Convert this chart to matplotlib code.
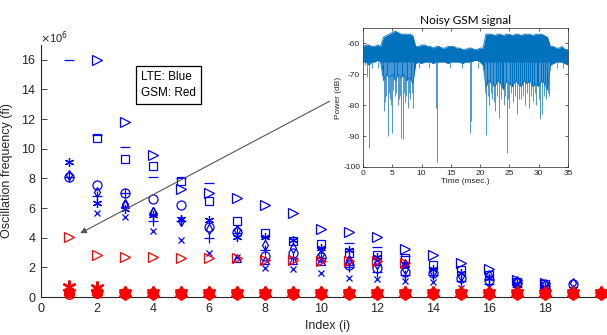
import numpy as np
import matplotlib.pyplot as plt

plt.rcParams['font.family'] = ['Liberation Sans', 'DejaVu Sans']
plt.rcParams['axes.unicode_minus'] = False

nan = np.nan
# ---------------- main chart data (values x 1e6) ----------------
index_lte = [1, 2, 3, 4, 5, 6, 7, 8, 9, 10, 11, 12, 13, 14, 15, 16, 17, 18, 19]
index_gsm = [1, 2, 3, 4, 5, 6, 7, 8, 9, 10, 11, 12, 13, 14, 15, 16, 17, 18, 19, 20]
index_gsm_tri = [1, 2, 3, 4, 5, 6, 7, 8, 9, 10, 11, 12, 13]

lte_tri = [nan, 16.0, 11.8, 9.6, 7.3, 7.0, 6.65, 6.2, 5.7, 4.6, 4.4, 4.05, 3.25, 2.85, 2.3, 1.9, 1.15, 0.95, nan]
lte_dash = [16.0, 10.95, 10.1, 8.1, 8.05, 7.7, nan, nan, nan, nan, 3.65, 3.4, 2.75, nan, nan, nan, nan, nan, nan]
lte_sq = [nan, 10.75, 9.3, 8.85, 7.85, 6.5, 5.1, 4.35, 3.8, 3.6, 3.0, 2.85, 2.6, 2.15, 1.8, 1.5, 1.0, 0.85, nan]
lte_star = [9.1, 6.35, 5.95, 5.5, 5.25, 5.2, 4.05, 4.05, 3.85, 3.3, 3.2, 2.7, 2.2, 1.9, 1.6, 1.3, 0.9, 0.7, 0.55]
lte_circ = [8.1, 7.55, 7.0, 6.6, 6.2, 4.7, 4.4, 2.75, 3.0, 2.7, 2.15, 1.95, 1.7, 1.65, 1.3, 1.15, 0.95, 0.75, 0.85]
lte_plus = [8.1, 6.8, 7.0, 5.15, 5.1, 4.0, 4.3, 3.2, 2.6, 2.6, 2.0, 1.7, 1.5, 1.5, 1.1, 0.9, 0.7, 0.6, 0.5]
lte_x = [nan, 5.7, 5.4, 4.45, 3.85, 3.0, 2.7, 1.95, 1.9, 1.6, 1.3, 1.2, 1.1, 1.0, 0.6, 0.7, 0.5, 0.45, 0.4]
lte_dia = [8.2, 7.1, 6.25, 5.75, 5.1, 4.6, 4.5, 3.5, 3.3, 2.9, 2.5, 2.2, 1.9, 1.7, 1.4, 1.5, 1.1, 0.9, 0.95]
lte_up = [nan, nan, 6.3, 5.8, nan, nan, 2.65, 2.5, 2.5, 2.45, 2.45, 2.4, 2.3, nan, nan, nan, nan, nan, nan]

gsm_tri = [4.05, 2.85, 2.7, 2.7, 2.65, 2.6, 2.6, 2.5, 2.5, 2.4, 2.4, 2.4, 2.3]
gsm_star = [0.65, 0.6, 0.3, 0.3, 0.3, 0.3, 0.3, 0.3, 0.3, 0.3, 0.3, 0.3, 0.3, 0.3, 0.3, 0.3, 0.3, 0.3, 0.3, 0.3]
gsm_circ = [0.2, 0.3, 0.2, 0.2, 0.2, 0.2, 0.2, 0.2, 0.2, 0.2, 0.2, 0.2, 0.2, 0.2, 0.2, 0.2, 0.2, 0.2, 0.2, 0.2]
gsm_hex = [0.35, 0.35, 0.25, 0.25, 0.25, 0.25, 0.25, 0.25, 0.25, 0.25, 0.25, 0.25, 0.25, 0.25, 0.25, 0.25, 0.25, 0.25, 0.25, 0.25]
gsm_plus = [0.45, 0.45, 0.3, 0.3, 0.3, 0.3, 0.3, 0.3, 0.3, 0.3, 0.3, 0.3, 0.3, 0.3, 0.3, 0.3, 0.3, 0.3, 0.3, 0.3]

x_ticks = [0, 2, 4, 6, 8, 10, 12, 14, 16, 18]
y_ticks = [0, 2, 4, 6, 8, 10, 12, 14, 16]

# ---------------- inset data (noisy GSM signal envelope, dB) ----------------
sig_t = [0, 0.5, 1, 1.5, 2, 2.5, 3, 3.5, 4, 4.5, 5, 5.5, 6, 6.5, 7, 7.5, 8, 8.5,
         9, 9.5, 10, 10.5, 11, 11.5, 12, 12.5, 13, 13.5, 14, 14.5, 15, 15.5, 16, 16.5,
         17, 17.5, 18, 18.5, 19, 19.5, 20, 20.5, 21, 21.5, 22, 22.5, 23, 23.5, 24, 24.5,
         25, 25.5, 26, 26.5, 27, 27.5, 28, 28.5, 29, 29.5, 30, 30.5, 31, 31.5, 32, 32.5,
         33, 33.5, 34, 34.5, 35]
sig_hi = [-61, -60.5, -60.5, -61, -61, -60.5, -61,
          -58, -57.5, -57, -56.5, -56, -56.5, -57, -57, -57, -57, -57.5,
          -61, -61, -60.5, -60.5, -61, -61, -61.5, -61, -61, -61.5, -61.5, -61,
          -61, -61, -61.5, -61.5, -62, -62, -61.5, -61.5, -62, -62, -61.5, -61.5,
          -57, -57, -57, -57.5, -57, -57, -57.5, -57, -57, -57.5, -57,
          -57, -57.5, -57, -57, -57, -57.5, -57, -57, -57, -57.5, -58,
          -61, -61, -61.5, -61.5, -61, -62, -62]
sig_lo = [-66, -66, -67, -66, -66, -65.5, -66,
          -72, -70, -71, -70, -72, -70, -71, -70, -72, -71, -73,
          -66.5, -66, -66.5, -66, -66, -66, -66.5, -66, -66, -66, -66, -66.5,
          -66, -66, -66, -66, -66.5, -66, -66, -66, -65.5, -65.5, -66, -67,
          -74, -72, -73, -74, -72, -73, -75, -72, -73, -74, -72,
          -73, -74, -72, -73, -72, -74, -73, -74, -72, -73, -75,
          -67, -66.5, -66, -66, -66, -66.5, -67]
spike_t = [0.3, 0.6, 1.0, 1.1, 1.6, 2.5, 3.3,
           3.5, 3.7, 3.8, 4.0, 4.2, 4.4, 4.6, 4.8, 5.0, 5.2, 5.4, 5.7, 5.9, 6.1, 6.3, 6.5,
           6.8, 7.0, 7.2, 7.4, 7.6, 7.9, 8.1, 8.3, 8.6,
           9.6, 11.2, 12.5, 12.7, 14.8, 16.9, 18.3, 18.5, 19.7,
           20.9, 21.0, 21.3, 21.5, 21.8, 22.0, 22.3, 22.6, 22.9, 23.3, 23.6, 24.0, 24.3, 24.5,
           24.8, 25.0, 25.3, 25.6, 26.0, 26.3, 26.6, 27.0, 27.3, 27.6, 28.0, 28.4, 28.7, 29.0,
           29.3, 29.6, 30.0, 30.3, 30.6, 30.9, 31.2, 31.5, 31.7, 33.2, 34.1]
spike_v = [-67, -71, -94, -85, -68, -68, -67,
           -82, -76, -79, -77, -90, -76, -78, -80, -89, -75, -77, -76, -80, -78, -77, -90.5,
           -91, -76, -79, -77, -81, -76, -78, -76, -81,
           -68, -68, -81, -98.5, -68, -68, -89, -85, -68,
           -76, -89.5, -77, -80, -76, -78, -79, -82, -77, -84, -78, -80, -77, -95.5,
           -78, -81, -76, -79, -77, -83, -78, -78, -77, -80, -76, -81, -77, -79,
           -76, -80, -78, -84.5, -83, -77, -78, -76, -77, -68, -68]

BLUE = '#0000FF'
RED = '#FF0000'
TXT = '#262626'
ASTER = (6, 2, 0)

fig = plt.figure(figsize=(6.07, 3.35), dpi=100)
ax = fig.add_axes([41 / 607, 1 - 297 / 335, 574 / 607, 252 / 335])
ax.set_xlim(0, 20.5)
ax.set_ylim(0, 17)

mk = dict(linestyle='none', fillstyle='none', markeredgewidth=0.9)
ax.plot(index_lte, lte_tri, marker='>', ms=7, color=BLUE, **mk)
ax.plot(index_lte, lte_dash, marker='_', ms=7, color=BLUE, **mk)
ax.plot(index_lte, lte_sq, marker='s', ms=5.5, color=BLUE, **mk)
ax.plot(index_lte, lte_star, marker=ASTER, ms=6.5, color=BLUE, **mk)
ax.plot(index_lte, lte_circ, marker='o', ms=6.5, color=BLUE, **mk)
ax.plot(index_lte, lte_plus, marker='+', ms=6.5, color=BLUE, **mk)
ax.plot(index_lte, lte_x, marker='x', ms=5, color=BLUE, **mk)
ax.plot(index_lte, lte_dia, marker='d', ms=5.5, color=BLUE, **mk)
ax.plot(index_lte, lte_up, marker='^', ms=5.5, color=BLUE, **mk)

ax.plot(index_gsm_tri, gsm_tri, marker='>', ms=7, color=RED, **mk)
ax.plot(index_gsm, gsm_hex, marker='h', ms=8, color=RED, linestyle='none', clip_on=False, zorder=5)
ax.plot(index_gsm, gsm_star, marker=ASTER, ms=10, color=RED, linestyle='none',
        markeredgewidth=1.6, clip_on=False, zorder=5)
ax.plot(index_gsm, gsm_circ, marker='o', ms=7, color=RED, fillstyle='none', linestyle='none',
        markeredgewidth=1.0, clip_on=False, zorder=5)
ax.plot(index_gsm, gsm_plus, marker='+', ms=9, color=RED, linestyle='none',
        markeredgewidth=1.2, clip_on=False, zorder=5)

for s in ['top', 'right']:
    ax.spines[s].set_visible(False)
for s in ['left', 'bottom']:
    ax.spines[s].set_color(TXT)
    ax.spines[s].set_linewidth(0.8)
ax.set_xticks(x_ticks)
ax.set_yticks(y_ticks)
ax.tick_params(direction='in', length=4, width=0.6, colors=TXT, labelsize=9, pad=4)
ax.set_xlabel('Index (i)', fontsize=9, color=TXT, labelpad=4)
ax.set_ylabel('Oscillation frequency (fi)', fontsize=9, color=TXT, labelpad=6)
fig.text(40 / 607, 1 - 38 / 335, r'$\times$10$^6$', fontsize=8, color=TXT, ha='left', va='center')

# legend-like text box
fig.text(141 / 607, 1 - 85 / 335, 'LTE: Blue\nGSM: Red', fontsize=8.5, color='black',
         ha='left', va='center', linespacing=1.45,
         bbox=dict(boxstyle='square,pad=0.45', fc='white', ec='black', lw=0.9))

# arrow
ax.annotate('', xy=(1.4, 4.3), xytext=(10.3, 13.2),
            arrowprops=dict(arrowstyle='-|>', color='#555555', lw=0.8,
                            mutation_scale=9, shrinkA=0, shrinkB=0))

# ---------------- inset ----------------
ins = fig.add_axes([363 / 607, 1 - 167 / 335, 205 / 607, 139 / 335])
ins.vlines(spike_t, -66, spike_v, color='#4A98D6', lw=0.7)
ins.fill_between(sig_t, sig_lo, sig_hi, color='#0072BD', lw=0)
ins.plot(sig_t, sig_hi, color='#0072BD', lw=0.6)
ins.plot(sig_t, sig_lo, color='#0072BD', lw=0.6)
ins.set_xlim(0, 35)
ins.set_ylim(-100, -55)
ins.set_xticks([0, 5, 10, 15, 20, 25, 30, 35])
ins.set_yticks([-100, -90, -80, -70, -60])
ins.tick_params(direction='in', length=2.5, width=0.5, colors=TXT, labelsize=6, pad=2,
                top=True, right=True)
for s in ins.spines.values():
    s.set_color(TXT)
    s.set_linewidth(0.5)
ins.set_title('Noisy GSM signal', fontsize=8.5, color='black', pad=3, family=['Lato', 'DejaVu Sans'])
ins.set_xlabel('Time (msec.)', fontsize=6, color=TXT, labelpad=1)
ins.set_ylabel('Power (dB)', fontsize=6, color=TXT, labelpad=1)

fig.savefig('out.png', dpi=100)
